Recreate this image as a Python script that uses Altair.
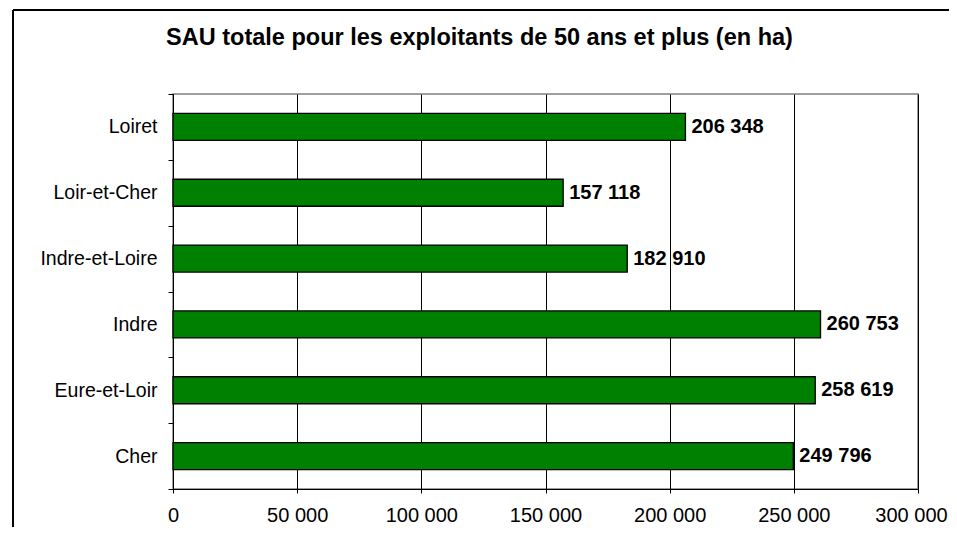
import altair as alt
import pandas as pd

departements = ["Cher", "Eure-et-Loir", "Indre", "Indre-et-Loire", "Loir-et-Cher", "Loiret"]
sau = [249796, 258619, 260753, 182910, 157118, 206348]
ordre = ["Loiret", "Loir-et-Cher", "Indre-et-Loire", "Indre", "Eure-et-Loir", "Cher"]
ticks_x = [0, 50000, 100000, 150000, 200000, 250000, 300000]
titre = "SAU totale pour les exploitants de 50 ans et plus (en ha)"

df = pd.DataFrame({"dep": departements, "sau": sau})

W, H = 745, 395
FONT = "Liberation Sans"

x_enc = alt.X(
    "sau:Q",
    scale=alt.Scale(domain=[0, 300000], nice=False, zero=True),
    axis=alt.Axis(
        values=ticks_x,
        title=None,
        grid=True,
        gridColor="#000000",
        gridWidth=1,
        domainColor="#000000",
        tickColor="#000000",
        tickSize=4,
        labelFontSize=20,
        labelColor="#000000",
        labelPadding=12,
        labelFont=FONT,
        labelFlush=False,
        labelOffset={"condition": {"test": "datum.value >= 300000", "value": -7}, "value": 0},
        labelExpr="replace(format(datum.value, ','), ',', ' ')",
    ),
)
y_enc = alt.Y(
    "dep:N",
    sort=ordre,
    scale=alt.Scale(paddingInner=0, paddingOuter=0),
    axis=alt.Axis(
        title=None,
        grid=False,
        domainColor="#000000",
        tickColor="#000000",
        tickSize=5,
        tickBand="extent",
        labelFontSize=19.5,
        labelColor="#000000",
        labelPadding=11,
        labelFont=FONT,
    ),
)

base = alt.Chart(df).encode(x=x_enc, y=y_enc)

bars = base.mark_bar(color="#008000", stroke="#000000", strokeWidth=1.3, size=27)

labels = base.transform_calculate(
    lab="replace(format(datum.sau, ','), ',', ' ')"
).mark_text(
    align="left", baseline="middle", dx=6, fontSize=20, fontWeight="bold",
    font=FONT, color="#000000"
).encode(text="lab:N")

one = alt.Data(values=[{"a": 1}])
frame_left = alt.Chart(one).mark_rule(color="#000000", strokeWidth=2).encode(
    x=alt.value(-160), y=alt.value(-84), y2=alt.value(600)
)
frame_top = alt.Chart(one).mark_rule(color="#000000", strokeWidth=2).encode(
    x=alt.value(-160), x2=alt.value(900), y=alt.value(-84)
)

chart = alt.layer(bars, labels, frame_left, frame_top).properties(
    width=W,
    height=H,
    title=alt.TitleParams(
        titre, font=FONT, fontSize=23.5, fontWeight="bold", color="#000000",
        anchor="middle", frame="group", dx=-66, offset=0, dy=59, baseline="alphabetic",
    ),
    autosize=alt.AutoSizeParams(type="none"),
    padding={"left": 165, "top": 86, "right": 31, "bottom": 38},
).configure_view(stroke="#808080", strokeWidth=1.5)

chart.save("out.html", embed_options={"renderer": "svg", "actions": False})
